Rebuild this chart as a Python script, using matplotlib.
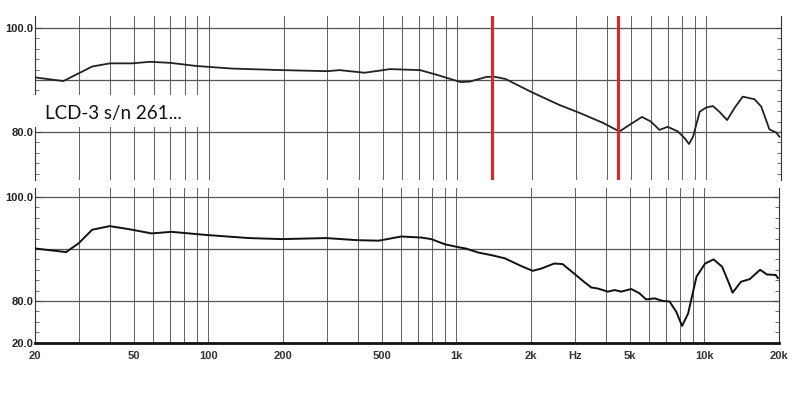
import matplotlib.pyplot as plt
from matplotlib.patches import Rectangle
import numpy as np

f_haut = [20, 26, 34, 40, 49, 58, 70, 89, 124, 197, 300, 335, 423, 486, 535, 708,
          826, 1030, 1120, 1310, 1420, 1560, 2000, 2570, 3090, 3830, 4480, 4890,
          5520, 6000, 6490, 7000, 7700, 8200, 8530, 8860, 9420, 10000, 10640,
          11300, 12140, 13000, 14030, 15650, 16650, 17970, 19130, 19700]
db_haut = [90.5, 89.8, 92.6, 93.2, 93.2, 93.5, 93.3, 92.7, 92.2, 91.9, 91.7, 91.9,
           91.4, 91.8, 92.1, 91.9, 91.0, 89.6, 89.7, 90.6, 90.6, 90.2, 87.6, 85.2,
           83.7, 81.8, 80.1, 81.3, 82.9, 82.0, 80.4, 81.0, 80.1, 78.8, 77.7, 79.1,
           83.9, 84.7, 85.0, 83.9, 82.3, 84.6, 86.8, 86.3, 84.9, 80.5, 79.9, 79.1]

f_bas = [20, 26.7, 30, 34, 40, 48, 59, 71, 98, 146, 198, 298, 397, 486, 600, 722,
         793, 899, 1030, 1090, 1230, 1390, 1570, 1830, 2030, 2190, 2480, 2680,
         2980, 3270, 3500, 3720, 4080, 4350, 4620, 5070, 5470, 5820, 6300, 6810,
         7240, 7710, 8130, 8600, 9300, 10070, 10890, 11790, 12570, 13000, 14050,
         15240, 16770, 17880, 19400, 19800]
db_bas = [90.1, 89.4, 91.1, 93.7, 94.4, 93.8, 93.0, 93.3, 92.7, 92.1, 91.9, 92.1,
          91.7, 91.6, 92.4, 92.2, 91.9, 90.9, 90.3, 90.1, 89.3, 88.8, 88.2, 86.7,
          85.8, 86.2, 87.2, 87.1, 85.3, 83.7, 82.6, 82.4, 81.8, 82.1, 81.8, 82.3,
          81.5, 80.3, 80.5, 80.0, 79.9, 77.9, 75.2, 77.6, 84.7, 87.2, 88.0, 86.6,
          83.4, 81.6, 83.7, 84.2, 86.0, 85.1, 85.0, 84.4]

marqueurs = [1380, 4430]
x_ticks = [20, 50, 100, 200, 500, 1000, 2000, 3000, 5000, 10000, 20000]
x_labels = ['20', '50', '100', '200', '500', '1k', '2k', 'Hz', '5k', '10k', '20k']
titre = "LCD-3 s/n 261..."

W, H = 800, 394
fig = plt.figure(figsize=(W/100, H/100), dpi=100)

def cadre(x0, x1, y0, y1):
    return [x0/W, 1 - y1/H, (x1-x0)/W, (y1-y0)/H]

ax1 = fig.add_axes(cadre(35, 781, 16, 180))
ax2 = fig.add_axes(cadre(35, 779, 188, 343))

grille = [k*10**n for n in range(1, 4) for k in range(1, 10)] + [10000, 20000]
grille = [g for g in grille if 20 < g <= 20000]

for ax, ylim in [(ax1, (70.77, 102.31)), (ax2, (71.92, 101.73))]:
    ax.set_xscale('log')
    ax.set_xlim(20, 20000)
    ax.set_ylim(*ylim)
    for g in grille:
        ax.axvline(g, color='#666666', lw=0.75, zorder=1)
    for h in [80, 90, 100]:
        ax.axhline(h, color='#555555', lw=0.9, zorder=1)
    ax.spines['top'].set_visible(False)
    ax.spines['left'].set_color('#333333')
    ax.spines['right'].set_color('#333333')
    ax.set_yticks(np.arange(72, 101, 2), minor=True)
    ax.tick_params(axis='y', which='minor', direction='in', length=3,
                   left=True, right=True, color='#555555')
    ax.tick_params(axis='y', which='major', direction='in', length=4,
                   left=True, right=True, color='#444444', pad=1,
                   labelsize=8, labelcolor='#222222')
    ax.tick_params(axis='x', which='both', length=0)
    ax.xaxis.set_minor_locator(plt.NullLocator())

ax1.spines['bottom'].set_visible(False)
ax1.set_xticks([])
ax1.set_yticks([80, 100])
ax1.set_yticklabels(['80.0', '100.0'], fontfamily='Liberation Sans', fontweight='bold')

ax2.spines['bottom'].set_linewidth(2)
ax2.spines['bottom'].set_color('#111111')
ax2.set_yticks([71.92, 80, 100])
ax2.set_yticklabels(['20.0', '80.0', '100.0'], fontfamily='Liberation Sans', fontweight='bold')
ax2.set_xticks(x_ticks)
ax2.set_xticklabels(x_labels, fontfamily='Liberation Sans', fontweight='bold',
                    fontsize=8, color='#333333')
ax2.tick_params(axis='x', pad=6)

ax1.plot(f_haut, db_haut, color='#222222', lw=1.3, zorder=3)
ax2.plot(f_bas, db_bas, color='#111111', lw=1.4, zorder=3)

for m in marqueurs:
    ax1.axvline(m, color='#c8302e', lw=2.3, zorder=4)

# cartouche blanc avec le nom
fig.add_artist(Rectangle((33/W, 1 - 127/H), 168/W, 32/H, transform=fig.transFigure,
                         facecolor='white', edgecolor='none', zorder=5))
fig.text(45/W, 1 - 119/H, titre, fontsize=13.5, fontfamily='Lato', color='#111111',
         va='baseline', zorder=6)

plt.savefig('out.png', dpi=100)
